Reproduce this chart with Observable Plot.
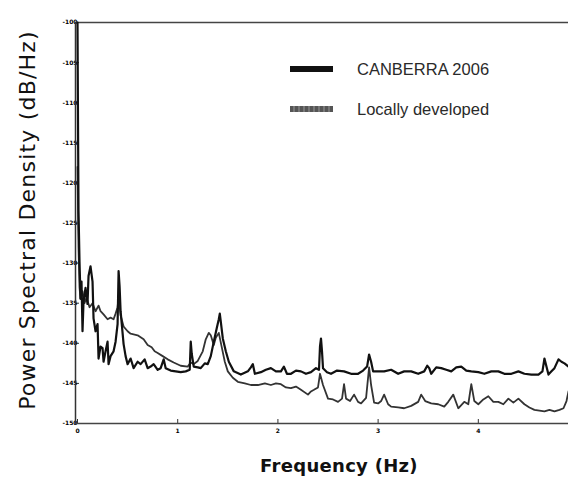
<!DOCTYPE html>
<html>
<head>
<meta charset="utf-8">
<script src="https://cdn.jsdelivr.net/npm/d3@7"></script>
<script src="https://cdn.jsdelivr.net/npm/@observablehq/plot@0.6"></script>
<style>
  html, body { margin: 0; padding: 0; background: #fff; }
  #wrap { position: relative; width: 568px; height: 478px; overflow: hidden; }
  #chart { position: absolute; left: 0; top: 0; }
  .ytitle { position: absolute; left: 27px; top: 220px; transform: translate(-50%, -50%) rotate(-90deg);
    font-family: "DejaVu Sans", sans-serif; font-size: 22px; color: #111; white-space: nowrap; letter-spacing: 1.2px; }
  .xtitle { position: absolute; left: 339px; top: 465px; transform: translate(-50%, -50%);
    font-family: "DejaVu Sans", sans-serif; font-size: 18px; font-weight: bold; color: #111; white-space: nowrap; letter-spacing: 0.3px; }
  .leg { position: absolute; left: 290px; font-family: "Liberation Sans", Arial, sans-serif; font-size: 16.5px; color: #2a2a2a; }
  .leg .sw { position: absolute; left: 0; width: 43px; height: 6px; }
  .leg .lb { position: absolute; left: 67px; white-space: nowrap; transform: translateY(-50%); }
</style>
</head>
<body>
<div id="wrap">
  <div id="chart"></div>
  <div class="ytitle">Power Spectral Density (dB/Hz)</div>
  <div class="xtitle">Frequency (Hz)</div>
  <div class="leg" style="top:69px"><div class="sw" style="top:-3px;background:#111"></div><div class="lb">CANBERRA 2006</div></div>
  <div class="leg" style="top:109px"><div class="sw" style="top:-3px;background:repeating-linear-gradient(90deg,#555 0 3px,#777 3px 5px)"></div><div class="lb">Locally developed</div></div>
</div>
<script>
// Frequencies (Hz) and PSD values (dB/Hz)
const canberraFreq = [0.000,0.005,0.01,0.02,0.03,0.04,0.05,0.06,0.08,0.10,0.11,0.13,0.15,0.16,0.18,0.20,0.21,0.23,0.25,0.26,0.28,0.30,0.31,0.33,0.36,0.38,0.40,0.41,0.42,0.43,0.46,0.48,0.50,0.53,0.56,0.60,0.63,0.67,0.70,0.73,0.76,0.80,0.83,0.86,0.88,0.93,0.98,1.03,1.08,1.12,1.13,1.14,1.16,1.20,1.23,1.27,1.30,1.33,1.36,1.39,1.41,1.42,1.43,1.45,1.48,1.51,1.56,1.63,1.70,1.73,1.75,1.77,1.83,1.88,1.93,1.98,2.03,2.06,2.09,2.13,2.18,2.23,2.28,2.33,2.38,2.41,2.42,2.43,2.44,2.45,2.49,2.53,2.59,2.66,2.73,2.80,2.85,2.89,2.91,2.93,2.95,3.00,3.06,3.13,3.20,3.26,3.33,3.40,3.46,3.49,3.51,3.53,3.58,3.63,3.68,3.73,3.78,3.83,3.88,3.93,4.00,4.06,4.13,4.20,4.26,4.33,4.40,4.46,4.53,4.60,4.64,4.66,4.68,4.70,4.73,4.76,4.80,4.83,4.86,4.90];
const canberraDb = [-100.0,-112.3,-123.5,-129.8,-134.4,-132.3,-138.5,-134.8,-133.1,-135.1,-131.6,-130.4,-132.3,-136.9,-138.5,-137.6,-141.9,-140.4,-140.6,-142.3,-141.0,-139.8,-142.6,-141.6,-141.0,-139.8,-137.6,-131.0,-132.9,-136.0,-140.1,-141.6,-142.6,-141.9,-143.1,-142.3,-142.6,-142.0,-143.1,-142.9,-142.6,-143.3,-143.1,-142.0,-143.1,-143.4,-143.5,-143.6,-143.5,-143.3,-139.8,-141.3,-142.9,-143.0,-143.1,-142.5,-142.6,-141.6,-139.8,-138.1,-137.0,-136.3,-137.3,-139.4,-141.0,-142.3,-143.5,-143.9,-143.5,-143.0,-142.6,-143.8,-143.6,-143.3,-143.1,-143.5,-143.5,-142.9,-143.8,-143.8,-143.4,-143.5,-143.8,-143.6,-143.1,-143.3,-140.4,-139.4,-141.0,-143.1,-143.6,-143.8,-143.4,-143.5,-143.8,-143.8,-143.4,-142.9,-141.4,-142.3,-143.5,-143.5,-143.5,-143.3,-143.8,-143.5,-143.5,-143.8,-143.5,-142.8,-143.1,-143.8,-143.0,-143.1,-143.3,-143.5,-143.0,-142.9,-143.4,-143.5,-143.6,-143.8,-143.5,-143.5,-143.8,-143.8,-143.5,-143.8,-143.9,-143.9,-143.5,-141.9,-142.9,-143.9,-143.5,-143.1,-142.0,-142.3,-142.5,-142.9];

const localFreq = [0.000,0.01,0.02,0.03,0.05,0.07,0.09,0.12,0.15,0.18,0.21,0.23,0.26,0.30,0.33,0.36,0.38,0.40,0.41,0.43,0.46,0.50,0.53,0.60,0.66,0.70,0.74,0.77,0.80,0.85,0.90,0.96,1.03,1.10,1.13,1.16,1.20,1.25,1.28,1.31,1.33,1.36,1.38,1.41,1.44,1.47,1.50,1.55,1.60,1.67,1.73,1.80,1.87,1.93,1.98,2.03,2.08,2.13,2.18,2.23,2.30,2.33,2.36,2.40,2.42,2.45,2.50,2.55,2.60,2.64,2.66,2.68,2.72,2.76,2.80,2.83,2.88,2.91,2.93,2.96,3.00,3.03,3.06,3.10,3.13,3.20,3.26,3.33,3.40,3.43,3.47,3.53,3.60,3.66,3.70,3.75,3.80,3.86,3.90,3.93,3.96,4.00,4.05,4.10,4.15,4.20,4.25,4.30,4.35,4.40,4.46,4.51,4.56,4.61,4.66,4.71,4.76,4.81,4.85,4.88,4.90];
const localDb = [-118.0,-128.0,-133.0,-134.5,-133.5,-135.0,-134.3,-135.5,-135.0,-136.0,-135.3,-136.0,-136.4,-137.0,-136.8,-137.0,-136.3,-135.5,-134.2,-136.5,-137.9,-138.5,-138.8,-139.0,-139.5,-140.2,-140.5,-141.0,-141.2,-141.6,-142.0,-142.4,-142.8,-142.9,-142.4,-142.6,-142.2,-141.0,-139.5,-138.7,-139.0,-140.2,-139.3,-138.7,-140.5,-142.3,-143.5,-144.3,-144.8,-145.0,-145.2,-145.2,-145.0,-145.2,-145.0,-145.1,-145.5,-145.6,-145.4,-145.8,-146.4,-146.0,-145.8,-145.5,-143.8,-145.2,-146.9,-147.0,-147.3,-146.9,-145.1,-146.9,-147.2,-146.4,-147.3,-147.5,-146.8,-143.0,-145.2,-147.4,-147.5,-147.2,-146.4,-147.6,-147.9,-148.0,-148.1,-147.8,-147.3,-146.4,-147.2,-147.5,-147.6,-147.9,-147.3,-146.4,-148.1,-147.3,-147.6,-145.1,-147.2,-147.6,-147.0,-146.6,-147.3,-147.3,-147.6,-146.9,-147.4,-146.9,-147.6,-148.0,-148.3,-148.4,-148.5,-148.3,-148.5,-148.3,-148.1,-147.2,-146.0];

const yTicks = [-150,-145,-140,-135,-130,-125,-120,-115,-110,-105,-100];
const xTicks = [0,1,2,3,4];

const canberra = canberraFreq.map((f, i) => ({f, db: canberraDb[i]}));
const local = localFreq.map((f, i) => ({f, db: localDb[i]}));

const chart = Plot.plot({
  width: 568,
  height: 478,
  marginTop: 22,
  marginBottom: 55,
  marginLeft: 75,
  marginRight: 0,
  style: {background: "transparent", fontFamily: "DejaVu Sans, sans-serif"},
  x: {domain: [-0.02, 4.9]},
  y: {domain: [-150, -100]},
  marks: [
    Plot.axisY({ticks: yTicks, tickSize: -4, tickPadding: 2, fontSize: 6, fontWeight: "bold", label: null, tickFormat: d => String(d), stroke: "#333"}),
    Plot.axisX({ticks: xTicks, tickSize: -4, tickPadding: 9, fontSize: 6, fontWeight: "bold", label: null, tickFormat: d => String(d), stroke: "#333"}),
    Plot.ruleY([-100], {stroke: "#444", strokeWidth: 1.5}),
    Plot.ruleY([-150], {stroke: "#444", strokeWidth: 1.5}),
    Plot.ruleX([-0.02], {stroke: "#333", strokeWidth: 1.5}),
    Plot.line(local, {x: "f", y: "db", stroke: "#333", strokeWidth: 1.8, curve: "linear"}),
    Plot.line(canberra, {x: "f", y: "db", stroke: "#111", strokeWidth: 2.2, curve: "linear"})
  ]
});
document.getElementById("chart").appendChild(chart);
</script>
</body>
</html>
